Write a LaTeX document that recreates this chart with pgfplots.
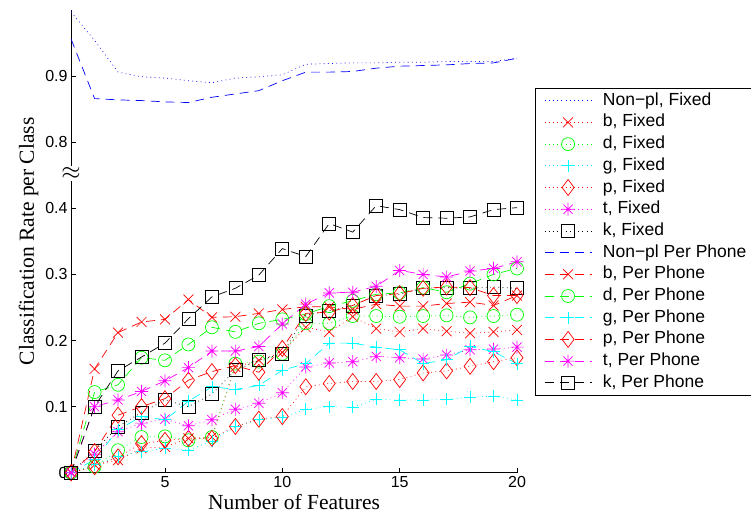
\documentclass[border=0pt]{standalone}
\usepackage{fontspec}
\setmainfont{Liberation Serif}
\setsansfont{Liberation Sans}
\usepackage{pgfplots}
\usepackage{pgfplotstable}
\pgfplotsset{compat=1.18}
\definecolor{mred}{rgb}{1,0,0}
\definecolor{mgreen}{rgb}{0,1,0}
\definecolor{mcyan}{rgb}{0,1,1}
\definecolor{mmag}{rgb}{1,0,1}
\definecolor{mblue}{rgb}{0,0,1}
\pgfdeclareplotmark{mstar}{%
  \pgfpathmoveto{\pgfqpoint{-\pgfplotmarksize}{0pt}}\pgfpathlineto{\pgfqpoint{\pgfplotmarksize}{0pt}}%
  \pgfpathmoveto{\pgfqpoint{0pt}{-\pgfplotmarksize}}\pgfpathlineto{\pgfqpoint{0pt}{\pgfplotmarksize}}%
  \pgfpathmoveto{\pgfqpoint{-.707\pgfplotmarksize}{-.707\pgfplotmarksize}}\pgfpathlineto{\pgfqpoint{.707\pgfplotmarksize}{.707\pgfplotmarksize}}%
  \pgfpathmoveto{\pgfqpoint{-.707\pgfplotmarksize}{.707\pgfplotmarksize}}\pgfpathlineto{\pgfqpoint{.707\pgfplotmarksize}{-.707\pgfplotmarksize}}%
  \pgfusepathqstroke}

\pgfplotstableread{
x  nF    bF    dF     gF     pF     tF    kF     nP    bP    dP     gP     pP     tP    kP
1  0.997 0.000 0.000  0.000  0.000  0.000 0.000  0.956 0.000 0.000  0.000  0.000  0.000 0.000
2  0.954 0.012 0.009  0.012  0.009  0.028 0.033  0.866 0.157 0.122  0.020  0.032  0.100 0.100
3  0.906 0.019 0.034  0.024  0.024  0.062 0.070  0.864 0.212 0.133  0.065  0.087  0.110 0.154
4  0.899 0.037 0.054  0.032  0.044  0.075 0.091  0.863 0.228 0.174  0.085  0.100  0.123 0.175
5  0.897 0.039 0.055  0.037  0.049  0.081 0.110  0.861 0.232 0.170  0.080  0.112  0.139 0.196
6  0.893 0.052 0.049  0.034  0.052  0.071 0.100  0.860 0.262 0.194  0.108  0.140  0.159 0.233
7  0.890 0.054 0.054  0.048  0.052  0.080 0.119  0.868 0.235 0.220  0.130  0.153  0.184 0.266
8  0.897 0.160 0.165  0.070  0.070  0.096 0.155  0.873 0.236 0.213  0.126  0.162  0.184 0.279
9  0.899 0.170 0.168  0.080  0.081  0.105 0.170  0.878 0.241 0.226  0.132  0.152  0.191 0.299
10 0.902 0.182 0.180  0.084  0.085  0.121 0.180  0.893 0.247 0.232  0.155  0.188  0.225 0.339
11 0.918 0.220 0.226  0.096  0.130  0.160 0.238  0.906 0.251 0.240  0.165  0.241  0.255 0.327
12 0.919 0.213 0.226  0.100  0.135  0.166 0.245  0.906 0.251 0.252  0.196  0.243  0.272 0.377
13 0.920 0.236 0.237  0.099  0.138  0.168 0.253  0.907 0.247 0.260  0.196  0.253  0.273 0.364
14 0.920 0.218 0.237  0.111  0.138  0.176 0.268  0.912 0.255 0.270  0.190  0.268  0.282 0.404
15 0.921 0.213 0.236  0.110  0.141  0.174 0.270  0.915 0.252 0.272  0.186  0.271  0.306 0.398
16 0.921 0.218 0.237  0.110  0.151  0.172 0.279  0.916 0.252 0.280  0.165  0.279  0.300 0.386
17 0.922 0.214 0.238  0.111  0.154  0.178 0.280  0.917 0.256 0.273  0.171  0.281  0.296 0.385
18 0.922 0.211 0.235  0.114  0.161  0.186 0.279  0.919 0.258 0.286  0.191  0.280  0.305 0.387
19 0.922 0.213 0.237  0.116  0.168  0.187 0.281  0.920 0.253 0.300  0.183  0.268  0.309 0.398
20 0.927 0.216 0.239  0.110  0.174  0.190 0.279  0.927 0.268 0.309  0.165  0.268  0.319 0.401
}\datatable

\begin{document}
\begin{tikzpicture}
\useasboundingbox (0,0) rectangle (751pt,523pt);
\begin{axis}[
  at={(71.1pt,50.3pt)}, anchor=south west,
  scale only axis, width=445.9pt, height=462.7pt,
  xmin=1, xmax=20, ymin=0, ymax=0.7,
  axis x line*=bottom, axis y line*=left,
  axis line style={line width=0.6pt,-},
  tick align=inside, major tick length=5pt,
  tick style={line width=0.6pt,black},
  xtick={5,10,15,20},
  ytick={0,0.1,0.2,0.3,0.4,0.5,0.6},
  yticklabels={0,0.1,0.2,0.3,0.4,0.8,0.9},
  ticklabel style={font=\sffamily\fontsize{16}{16}\selectfont},
  /pgf/number format/assume math mode=true,
  xlabel={Number of Features},
  ylabel={Classification Rate per Class},
  label style={font=\rmfamily\fontsize{21.5}{21.5}\selectfont},
  clip=false,
  legend cell align=left,
  legend style={at={(1.0404,0.8314)}, anchor=north west,
    font=\sffamily\fontsize{17.5}{17.5}\selectfont,
    inner xsep=3pt, inner ysep=2pt,
    nodes={inner sep=2pt, text height=13pt, text depth=4pt},
    row sep=0.7pt,
    /tikz/every odd column/.append style={column sep=9pt}},
  legend image code/.code={\path (0pt,0pt); \draw[mark repeat=2,mark phase=2,#1] plot coordinates {(6pt,0pt) (29.5pt,0pt) (53pt,0pt)};},
  fx/.style={line width=0.7pt, dash pattern=on 0.8pt off 3.4pt, mark options={solid}},
  pp/.style={line width=0.7pt, dash pattern=on 9pt off 6pt, mark options={solid}},
]
\addplot[fx, color=mblue, draw=mblue] table[x=x, y expr=\thisrow{nF}-0.3] {\datatable};
\addlegendentry{Non−pl, Fixed}
\addplot[fx, color=mred, draw=mred, mark=x, mark size=7pt] table[x=x, y=bF] {\datatable};
\addlegendentry{b, Fixed}
\addplot[fx, color=mgreen, draw=mgreen, mark=o, mark size=6.5pt] table[x=x, y=dF] {\datatable};
\addlegendentry{d, Fixed}
\addplot[fx, color=mcyan, draw=mcyan, mark=+, mark size=6pt] table[x=x, y=gF] {\datatable};
\addlegendentry{g, Fixed}
\addplot[fx, color=mred, draw=mred, mark=diamond, mark size=8pt] table[x=x, y=pF] {\datatable};
\addlegendentry{p, Fixed}
\addplot[fx, color=mmag, draw=mmag, mark=mstar, mark size=6.5pt] table[x=x, y=tF] {\datatable};
\addlegendentry{t, Fixed}
\addplot[fx, color=black, draw=black, mark=square, mark size=6.5pt] table[x=x, y=kF] {\datatable};
\addlegendentry{k, Fixed}
\addplot[pp, color=mblue, draw=mblue] table[x=x, y expr=\thisrow{nP}-0.3] {\datatable};
\addlegendentry{Non−pl Per Phone}
\addplot[pp, color=mred, draw=mred, mark=x, mark size=7pt] table[x=x, y=bP] {\datatable};
\addlegendentry{b, Per Phone}
\addplot[pp, color=mgreen, draw=mgreen, mark=o, mark size=6.5pt] table[x=x, y=dP] {\datatable};
\addlegendentry{d, Per Phone}
\addplot[pp, color=mcyan, draw=mcyan, mark=+, mark size=6pt] table[x=x, y=gP] {\datatable};
\addlegendentry{g, Per Phone}
\addplot[pp, color=mred, draw=mred, mark=diamond, mark size=8pt] table[x=x, y=pP] {\datatable};
\addlegendentry{p, Per Phone}
\addplot[pp, color=mmag, draw=mmag, mark=mstar, mark size=6.5pt] table[x=x, y=tP] {\datatable};
\addlegendentry{t, Per Phone}
\addplot[pp, color=black, draw=black, mark=square, mark size=6.5pt] table[x=x, y=kP] {\datatable};
\addlegendentry{k, Per Phone}
\node[fill=white, inner sep=0pt, minimum height=15pt, minimum width=12pt, font=\fontsize{24}{24}\selectfont] at (axis cs:1,0.452) {$\approx$};
\end{axis}
\end{tikzpicture}
\end{document}
